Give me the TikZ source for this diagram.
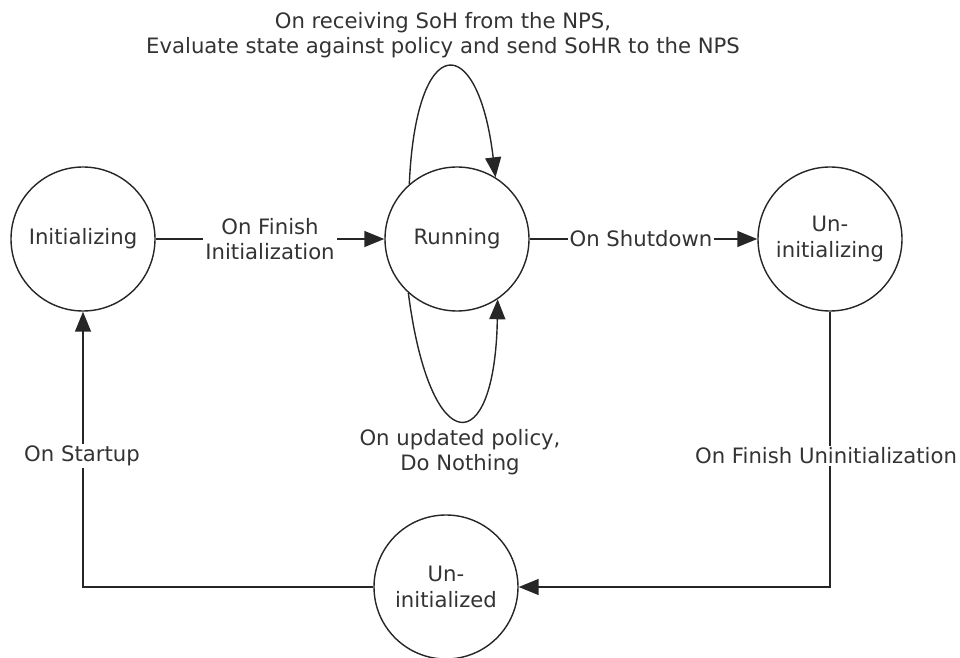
\documentclass[tikz,border=0pt]{standalone}
\usepackage{fontspec}
\setmainfont{DejaVu Sans}
\usetikzlibrary{arrows.meta,shapes.geometric}
\begin{document}
\begin{tikzpicture}[x=0.5pt,y=-0.5pt,
  every node/.style={font=\fontsize{10.6pt}{12.6pt}\selectfont, text=black!80},
  state/.style={circle,draw=black!85,line width=0.7pt,minimum size=72pt,inner sep=0pt,align=center},
  ustate/.style={ellipse,draw=black!85,line width=0.7pt,minimum width=64pt,minimum height=72pt,inner sep=0pt,align=center},
  arr/.style={draw=black!85,line width=0.7pt,-{Triangle[length=10pt,width=8pt]}},
  lbl/.style={fill=white,inner sep=1pt,align=center}]
\useasboundingbox (0,0) rectangle (960,658);
\node[state] (init) at (83,239) {Initializing};
\node[state] (run) at (457,239) {Running};
\node[state] (uning) at (830,239) {Un-\\initializing};
\node[ustate] (uned) at (446,587) {Un-\\initialized};
\draw[arr] (init) -- (run);
\node[lbl] (l1) at (270,239) {On Finish\\Initialization};
\draw[arr] (run) -- (uning);
\node[lbl] (l2) at (641,239) {On Shutdown};
\draw[arr] (uning.south) |- (uned.east);
\node[lbl] (l3) at (826,456) {On Finish Uninitialization};
\draw[arr] (uned.west) -| (init.south);
\node[lbl] (l4) at (82,456) {On Startup};
\draw[arr] (run.131) .. controls (416,30) and (478,30) .. (run.58);
\draw[arr] (run.228) .. controls (430,461) and (495,461) .. (run.304);
\node[align=center] (l5) at (443,35) {On receiving SoH from the NPS,\\Evaluate state against policy and send SoHR to the NPS};
\node[align=center] (l6) at (460,452) {On updated policy,\\Do Nothing};
\end{tikzpicture}
\end{document}
